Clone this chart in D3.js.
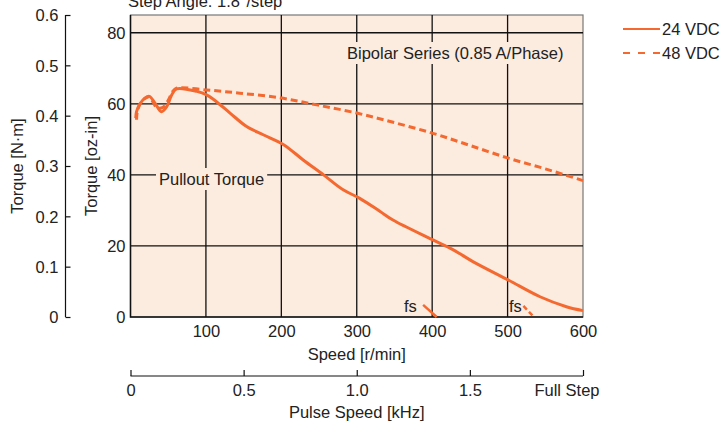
<!DOCTYPE html>
<html>
  <head>
    <meta charset="utf-8">
    <script src="https://d3js.org/d3.v7.min.js"></script>
    <title>Pullout Torque</title>
  </head>
  <body>
<style>
body {
  margin: 0;
  background-color: #fff;
}
svg {
  font-family: 'Liberation Sans', Arial, sans-serif;
}
.axis text {
  font-size: 16.5px;
  fill: #222;
}
.label {
  font-size: 16.5px;
  fill: #222;
}
</style>
<svg></svg>
<script type="text/javascript">
// 24 VDC pullout torque (solid)
const speed24 = [7, 8, 12.6, 19, 25, 32.5, 41, 48, 54.6, 61, 88, 101, 114, 132, 154, 176, 203, 229, 256, 282, 304, 331, 348, 401, 428, 454, 501, 543, 578, 600];
const torque24 = [56, 57.8, 60, 61.6, 62.1, 60.2, 57.8, 59.2, 62.5, 64.2, 63.5, 62.5, 60.6, 57.4, 53.6, 51.3, 48.5, 44.2, 40, 35.8, 33.4, 29.7, 27.3, 21.7, 18.9, 15.6, 10.4, 5.7, 2.9, 1.8];
// 48 VDC pullout torque (dashed)
const speed48 = [8, 9, 13, 19, 25, 30, 35, 43, 50, 56, 61, 101, 145, 198, 247, 300, 350, 401, 450, 501, 550, 600];
const torque48 = [55.5, 57.8, 60, 61.5, 62, 60.5, 58.9, 59, 61, 63.5, 64.4, 63.9, 63, 61.7, 59.7, 57.4, 54.7, 51.7, 48.3, 44.7, 41.7, 38.4];
// fs (start/stop) short curves
const fsSpeed24 = [388, 406];
const fsTorque24 = [3.4, 0];
const fsSpeed48 = [521, 535];
const fsTorque48 = [3.1, 0];

const speedTicks = [100, 200, 300, 400, 500, 600];
const ozTicks = [0, 20, 40, 60, 80];
const nmTicks = [0, 0.1, 0.2, 0.3, 0.4, 0.5, 0.6];
const khzTicks = [0, 0.5, 1.0, 1.5, 2.0];
const khzLabels = ["0", "0.5", "1.0", "1.5", "Full Step"];
const seriesNames = ["24 VDC", "48 VDC"];

const width = 720, height = 425;
const orange = "#f4692f";
const pL = 130.5, pR = 583, pT = 15, pB = 317;

const svg = d3.select("svg")
  .attr("width", width)
  .attr("height", height);

const x = d3.scaleLinear().domain([0, 600]).range([pL, pR]);
const y = d3.scaleLinear().domain([0, 85]).range([pB, pT]);
const yNm = d3.scaleLinear().domain([0, 0.6]).range([pB, pT]);
const xKhz = d3.scaleLinear().domain([0, 2]).range([pL, pR]);

// plot background
svg.append("rect")
  .attr("x", pL).attr("y", pT)
  .attr("width", pR - pL).attr("height", pB - pT)
  .attr("fill", "#fcebdf")
  .attr("stroke", "#777")
  .attr("stroke-width", 1.2);

// grid
const grid = svg.append("g").attr("stroke", "#111").attr("stroke-width", 1.3);
grid.selectAll(".vg")
  .data(speedTicks.slice(0, -1))
  .enter().append("line")
  .attr("x1", d => x(d)).attr("x2", d => x(d))
  .attr("y1", pT).attr("y2", pB);
grid.selectAll(".hg")
  .data(ozTicks.slice(1))
  .enter().append("line")
  .attr("x1", pL).attr("x2", pR)
  .attr("y1", d => y(d)).attr("y2", d => y(d));

// left & bottom frame
svg.append("path")
  .attr("d", `M${pL},${pT}V${pB}H${pR}`)
  .attr("fill", "none")
  .attr("stroke", "#111")
  .attr("stroke-width", 1.5);

// text labels with background masking the grid
const tag = (tx, ty, txt, pad) => {
  const t = svg.append("text")
    .attr("class", "label")
    .attr("x", tx).attr("y", ty)
    .text(txt);
  const b = t.node().getBBox();
  svg.insert("rect", () => t.node())
    .attr("x", b.x - pad).attr("y", b.y - 2)
    .attr("width", b.width + pad * 2).attr("height", b.height + 4)
    .attr("fill", "#fcebdf");
};
tag(347, 59, "Bipolar Series (0.85 A/Phase)", 3);
tag(159, 185, "Pullout Torque", 3);

svg.append("text").attr("class", "label")
  .attr("x", 404).attr("y", 312).text("fs");
svg.append("text").attr("class", "label")
  .attr("x", 509).attr("y", 312).text("fs");

// curves
const line = d3.line()
  .x(d => x(d[0]))
  .y(d => y(d[1]))
  .curve(d3.curveCatmullRom);

svg.append("path")
  .datum(d3.zip(speed24, torque24))
  .attr("d", line)
  .attr("fill", "none")
  .attr("stroke", orange)
  .attr("stroke-width", 3);

svg.append("path")
  .datum(d3.zip(speed48, torque48))
  .attr("d", line)
  .attr("fill", "none")
  .attr("stroke", orange)
  .attr("stroke-width", 3)
  .attr("stroke-dasharray", "7,4");

svg.append("path")
  .datum(d3.zip(fsSpeed24, fsTorque24))
  .attr("d", line)
  .attr("fill", "none")
  .attr("stroke", orange)
  .attr("stroke-width", 2.5);

svg.append("path")
  .datum(d3.zip(fsSpeed48, fsTorque48))
  .attr("d", line)
  .attr("fill", "none")
  .attr("stroke", orange)
  .attr("stroke-width", 2.5)
  .attr("stroke-dasharray", "5,3");

// axes
const axX = svg.append("g")
  .attr("class", "axis")
  .attr("transform", `translate(0,${pB})`)
  .call(d3.axisBottom(x).tickValues(speedTicks).tickSize(0).tickPadding(6));
axX.select(".domain").remove();
axX.selectAll("text").attr("dy", "0").attr("y", 20);

const axY = svg.append("g")
  .attr("class", "axis")
  .attr("transform", `translate(${pL},0)`)
  .call(d3.axisLeft(y).tickValues(ozTicks).tickSize(0).tickPadding(5));
axY.select(".domain").remove();
axY.selectAll("text").attr("dy", "0.35em");

const axNm = svg.append("g")
  .attr("class", "axis")
  .attr("transform", "translate(65.5,0)")
  .call(d3.axisRight(yNm).tickValues(nmTicks).tickSize(5).tickFormat(d => d === 0 ? "0" : d3.format(".1f")(d)));
axNm.select(".domain").attr("d", `M0,${pT}V${pB}`).attr("stroke", "#111").attr("stroke-width", 1.2);
axNm.selectAll("line").attr("stroke", "#111").attr("stroke-width", 1.2);
axNm.selectAll("text")
  .attr("x", -7)
  .attr("text-anchor", "end")
  .attr("dy", "0.35em");

const axK = svg.append("g")
  .attr("class", "axis")
  .attr("transform", "translate(0,376)")
  .call(d3.axisTop(xKhz).tickValues(khzTicks).tickSize(6).tickFormat((d, i) => khzLabels[i]));
axK.select(".domain").attr("d", `M${pL},0H${pR}`).attr("stroke", "#111").attr("stroke-width", 1.2);
axK.selectAll("line").attr("stroke", "#111").attr("stroke-width", 1.2);
axK.selectAll("text").attr("y", 20).attr("dy", "0");
axK.selectAll("text").filter((d, i) => i === khzTicks.length - 1)
  .attr("text-anchor", "end").attr("dx", 16);

// axis titles
svg.append("text").attr("class", "label")
  .attr("x", (pL + pR) / 2).attr("y", 360)
  .attr("text-anchor", "middle")
  .text("Speed [r/min]");
svg.append("text").attr("class", "label")
  .attr("x", (pL + pR) / 2).attr("y", 418)
  .attr("text-anchor", "middle")
  .text("Pulse Speed [kHz]");
svg.append("text").attr("class", "label")
  .attr("transform", `translate(23,${(pT + pB) / 2}) rotate(-90)`)
  .attr("text-anchor", "middle")
  .text("Torque [N·m]");
svg.append("text").attr("class", "label")
  .attr("transform", `translate(97,${(pT + pB) / 2}) rotate(-90)`)
  .attr("text-anchor", "middle")
  .text("Torque [oz-in]");
// title sits partly above the top edge, as in the original
svg.append("text").attr("class", "label")
  .attr("x", 128).attr("y", 7)
  .text("Step Angle: 1.8°/step");

// legend
const legend = svg.append("g");
seriesNames.forEach((name, i) => {
  const ly = 29 + i * 24;
  legend.append("line")
    .attr("x1", 623).attr("x2", 660)
    .attr("y1", ly).attr("y2", ly)
    .attr("stroke", orange)
    .attr("stroke-width", 2)
    .attr("stroke-dasharray", i === 1 ? "7,8" : null);
  legend.append("text").attr("class", "label")
    .attr("x", 662).attr("y", ly + 5.5)
    .text(name);
});
</script>
  </body>
</html>
